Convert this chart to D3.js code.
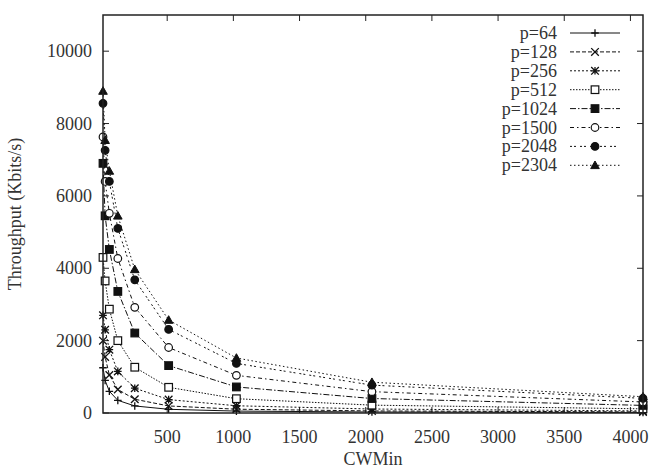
<!DOCTYPE html>
<html>
<head>
<meta charset="utf-8">
<script src="https://cdn.jsdelivr.net/npm/d3@7"></script>
<style>
  body { margin: 0; background: #fff; }
  text { font-family: "Liberation Serif", "DejaVu Serif", serif; fill: #333; }
</style>
</head>
<body>
<div id="chart"></div>
<script>
// CWMin values (x axis)
var cwMin = [15, 31, 63, 127, 255, 511, 1023, 2047, 4095];

// Throughput (Kbits/s) for each packet size
var p64   = [1250, 900, 600, 350, 195, 102, 53, 27, 14];
var p128  = [2000, 1550, 1050, 650, 380, 195, 105, 57, 30];
var p256  = [2700, 2300, 1750, 1150, 685, 370, 200, 110, 58];
var p512  = [4300, 3650, 2870, 2000, 1265, 710, 395, 217, 115];
var p1024 = [6900, 5450, 4520, 3360, 2210, 1310, 720, 400, 210];
var p1500 = [7630, 6400, 5520, 4270, 2920, 1810, 1040, 590, 305];
var p2048 = [8560, 7260, 6400, 5100, 3680, 2310, 1370, 770, 405];
var p2304 = [8900, 7540, 6690, 5450, 3970, 2570, 1520, 850, 450];

var seriesNames = ["p=64", "p=128", "p=256", "p=512", "p=1024", "p=1500", "p=2048", "p=2304"];
var seriesValues = [p64, p128, p256, p512, p1024, p1500, p2048, p2304];

var xTicks = [500, 1000, 1500, 2000, 2500, 3000, 3500, 4000];
var yTicks = [0, 2000, 4000, 6000, 8000, 10000];

// line dash style and point type per series (gnuplot look)
var dashes = [null, "4,2", "2,2", "1.5,1.5", "6,2,1.5,2", "4,3,1.5,3", "2,2,2,4", "1.5,2.5"];
var points = ["plus", "cross", "star", "square", "fsquare", "circle", "fcircle", "ftriangle"];

var svgWidth = 650;
var svgHeight = 468;
var margin = { top: 15, right: 7, bottom: 55, left: 103 };

var svg = d3.select("#chart")
    .append("svg")
    .attr("width", svgWidth)
    .attr("height", svgHeight);

var x = d3.scaleLinear()
    .domain([15, 4095])
    .range([margin.left, svgWidth - margin.right]);

var y = d3.scaleLinear()
    .domain([0, 11000])
    .range([svgHeight - margin.bottom, margin.top]);

var x0 = x.range()[0], x1 = x.range()[1];
var y0 = y.range()[0], y1 = y.range()[1];
var tickLen = 6;

// ticks (inside, mirrored like gnuplot)
var ticksG = svg.append("g").attr("stroke", "#222").attr("stroke-width", 1);
xTicks.forEach(function(t) {
    ticksG.append("line").attr("x1", x(t)).attr("x2", x(t)).attr("y1", y0).attr("y2", y0 - tickLen);
    ticksG.append("line").attr("x1", x(t)).attr("x2", x(t)).attr("y1", y1).attr("y2", y1 + tickLen);
});
yTicks.forEach(function(t) {
    ticksG.append("line").attr("x1", x0).attr("x2", x0 + tickLen).attr("y1", y(t)).attr("y2", y(t));
    ticksG.append("line").attr("x1", x1).attr("x2", x1 - tickLen).attr("y1", y(t)).attr("y2", y(t));
});

// tick labels
svg.append("g").selectAll("text")
    .data(xTicks)
    .enter().append("text")
    .attr("x", d => x(d))
    .attr("y", y0 + 30)
    .attr("text-anchor", "middle")
    .attr("font-size", 18)
    .text(d => d);

svg.append("g").selectAll("text")
    .data(yTicks)
    .enter().append("text")
    .attr("x", x0 - 11)
    .attr("y", d => y(d) + 6)
    .attr("text-anchor", "end")
    .attr("font-size", 18)
    .text(d => d);

// axis titles
svg.append("text")
    .attr("x", (x0 + x1) / 2)
    .attr("y", y0 + 52)
    .attr("text-anchor", "middle")
    .attr("font-size", 18)
    .text("CWMin");

svg.append("text")
    .attr("transform", `translate(21, ${(y0 + y1) / 2}) rotate(-90)`)
    .attr("text-anchor", "middle")
    .attr("font-size", 18)
    .text("Throughput (Kbits/s)");

// marker drawing
function drawPoint(g, type, cx, cy) {
    var s = 3.8;
    if (type == "plus" || type == "cross" || type == "star") {
        var path = "";
        if (type != "cross") path += `M${cx - s},${cy}L${cx + s},${cy}M${cx},${cy - s}L${cx},${cy + s}`;
        if (type != "plus") path += `M${cx - s},${cy - s}L${cx + s},${cy + s}M${cx - s},${cy + s}L${cx + s},${cy - s}`;
        g.append("path").attr("d", path).attr("stroke", "#111").attr("stroke-width", 1.3).attr("fill", "none");
    } else if (type == "square" || type == "fsquare") {
        g.append("rect")
            .attr("x", cx - s).attr("y", cy - s).attr("width", 2 * s).attr("height", 2 * s)
            .attr("fill", type == "fsquare" ? "#111" : "#fff")
            .attr("stroke", "#111").attr("stroke-width", 1.2);
    } else if (type == "circle" || type == "fcircle") {
        g.append("circle")
            .attr("cx", cx).attr("cy", cy).attr("r", s)
            .attr("fill", type == "fcircle" ? "#111" : "#fff")
            .attr("stroke", "#111").attr("stroke-width", 1.2);
    } else if (type == "ftriangle") {
        g.append("path")
            .attr("d", `M${cx},${cy - s - 0.5}L${cx + s + 0.5},${cy + s - 0.5}L${cx - s - 0.5},${cy + s - 0.5}Z`)
            .attr("fill", "#111").attr("stroke", "#111").attr("stroke-width", 1);
    }
}

var line = d3.line()
    .x(d => x(d[0]))
    .y(d => y(d[1]));

var plotG = svg.append("g");
seriesValues.forEach(function(vals, i) {
    var pts = cwMin.map((c, j) => [c, vals[j]]);
    plotG.append("path")
        .datum(pts)
        .attr("d", line)
        .attr("fill", "none")
        .attr("stroke", "#111")
        .attr("stroke-width", 1)
        .attr("stroke-dasharray", dashes[i]);
    pts.forEach(function(p) {
        drawPoint(plotG, points[i], x(p[0]), y(p[1]));
    });
});

// frame
svg.append("rect")
    .attr("x", x0).attr("y", y1)
    .attr("width", x1 - x0).attr("height", y0 - y1)
    .attr("fill", "none")
    .attr("stroke", "#222")
    .attr("stroke-width", 1.5);

// legend (top right)
var legend = svg.append("g");
seriesNames.forEach(function(name, i) {
    var ly = 33 + i * 18.9;
    legend.append("text")
        .attr("x", 557)
        .attr("y", ly + 6)
        .attr("text-anchor", "end")
        .attr("font-size", 18)
        .text(name);
    legend.append("line")
        .attr("x1", 570).attr("x2", 620)
        .attr("y1", ly).attr("y2", ly)
        .attr("stroke", "#111")
        .attr("stroke-width", 1)
        .attr("stroke-dasharray", dashes[i]);
    drawPoint(legend, points[i], 595, ly);
});
</script>
</body>
</html>
